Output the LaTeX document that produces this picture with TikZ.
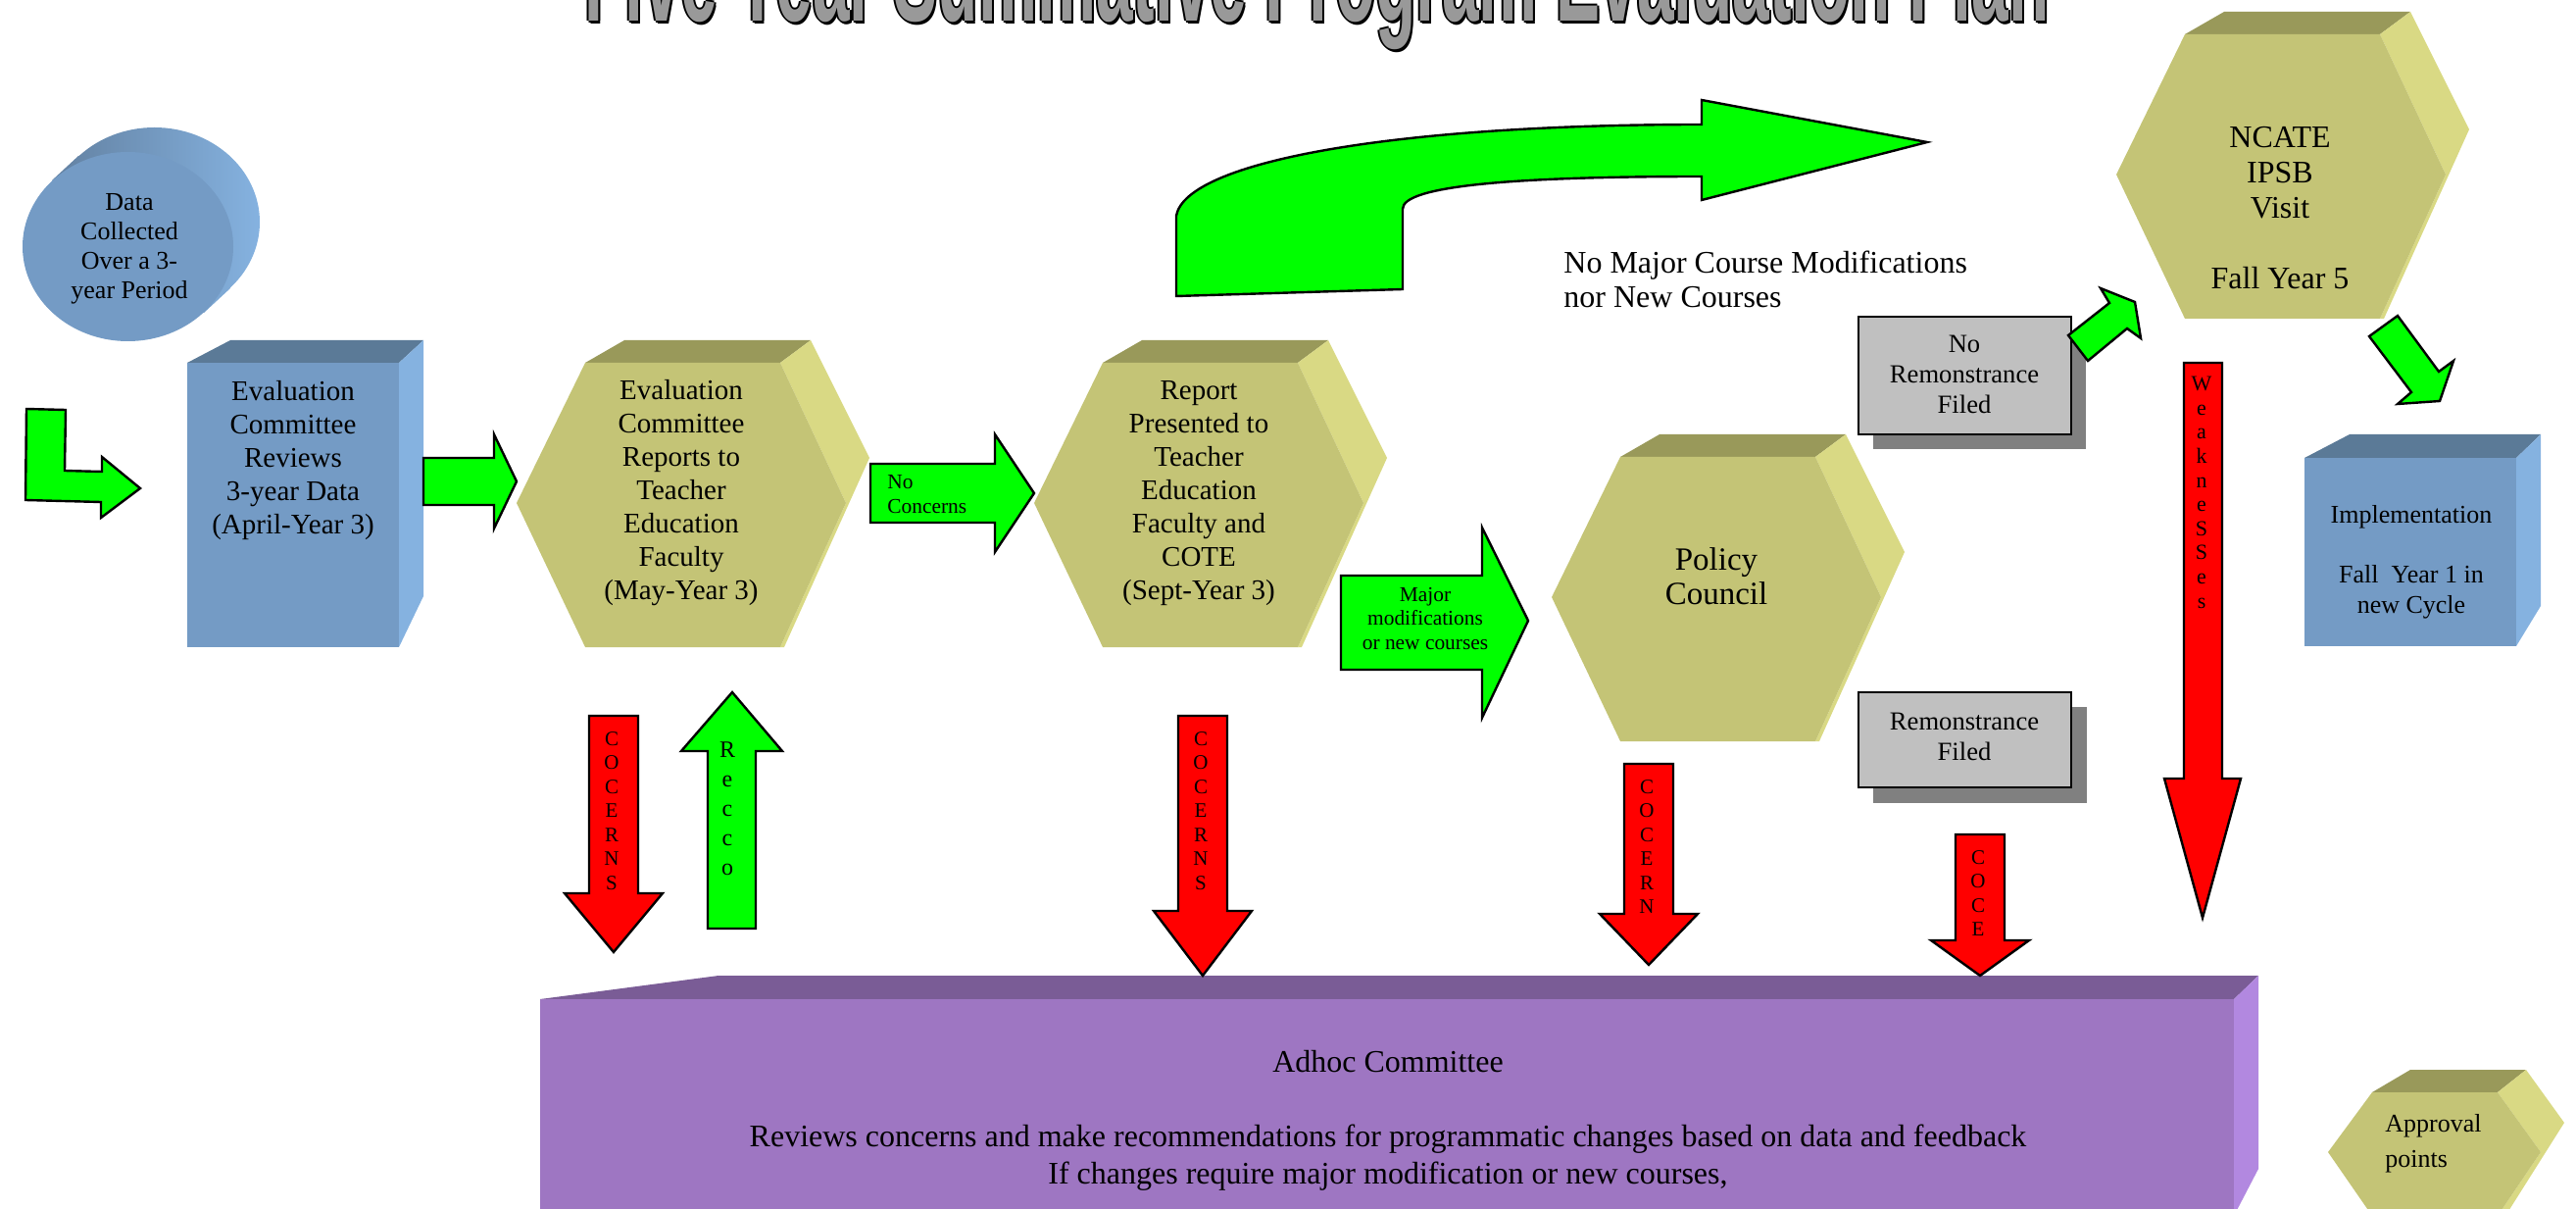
\documentclass[tikz,border=0pt]{standalone}
\usepackage{graphicx}
\usepackage{fontspec}
\setmainfont{Liberation Serif}
\newfontfamily\titlefont{Liberation Sans}
\definecolor{arrowgreen}{RGB}{0,255,0}
\definecolor{hexfront}{RGB}{196,196,118}
\definecolor{hextop}{RGB}{153,153,90}
\definecolor{hexside}{RGB}{217,217,132}
\definecolor{bluefront}{RGB}{116,155,197}
\definecolor{bluetop}{RGB}{91,122,151}
\definecolor{blueside}{RGB}{133,178,224}
\definecolor{cyldark}{RGB}{98,128,160}
\definecolor{purplefront}{RGB}{158,118,194}
\definecolor{purpletop}{RGB}{122,92,150}
\definecolor{purpleside}{RGB}{178,136,224}
\definecolor{boxgray}{RGB}{192,192,192}
\definecolor{shadowgray}{RGB}{128,128,128}
\definecolor{titlegray}{RGB}{153,153,153}

\begin{document}
\begin{tikzpicture}[x=0.5bp, y=-0.5bp,
    every node/.style={inner sep=0pt, align=center},
    greenarrow/.style={fill=arrowgreen, draw=black, line width=1.2bp},
    redarrow/.style={fill=red, draw=black, line width=1.2bp},
    graybox/.style={fill=boxgray, draw=black, line width=1.2bp},
    boxtext/.style={font=\fontsize{14.5bp}{17bp}\selectfont},
    smalltext/.style={font=\fontsize{10.7bp}{12.2bp}\selectfont},
    letter/.style={anchor=base, font=\fontsize{10.5bp}{12bp}\selectfont}]
    \clip (0,0) rectangle (2628,1233);

    % title, cut by the top edge
    \foreach \ox/\oy [count=\k] in {-2/0,2/0,0/-2,0/2,2/3}
        \node[anchor=base west, text=black] (tshadow\k) at (596+\ox,22+\oy)
            {\resizebox{747bp}{50bp}{\titlefont\bfseries Five Year Summative Program Evaluation Plan}};
    \node[anchor=base west, text=titlegray] (title) at (596,22)
        {\resizebox{747bp}{50bp}{\titlefont\bfseries Five Year Summative Program Evaluation Plan}};

    % data cylinder
    \shade[left color=cyldark, right color=blueside]
        (157.5,226.5) ellipse (107.5 and 96.5)
        (53,184) -- (80,159) -- (235,294) -- (208,319) -- cycle;
    \fill[bluefront] (130.5,251.5) ellipse (107.5 and 96.5);
    \node[font=\fontsize{13bp}{15bp}\selectfont] (data) at (132,254)
        {Data\\Collected\\Over a 3-\\year Period};

    % blue boxes
    \fill[bluetop] (191,370) -- (235,347) -- (432,347) -- (407,370) -- cycle;
    \fill[blueside] (407,370) -- (432,347) -- (432,608) -- (407,660) -- cycle;
    \fill[bluefront] (191,370) rectangle (407,660);
    \node[boxtext] (review) at (299,470)
        {Evaluation\\Committee\\Reviews\\3-year Data\\(April-Year 3)};

    \fill[bluetop] (2351,467) -- (2397,443) -- (2592,443) -- (2567,467) -- cycle;
    \fill[blueside] (2567,467) -- (2592,443) -- (2592,618) -- (2567,659) -- cycle;
    \fill[bluefront] (2351,467) rectangle (2567,659);
    \node[font=\fontsize{13bp}{15.3bp}\selectfont] (impl) at (2460,573)
        {Implementation\\~\\Fall\ \ Year 1 in\\new Cycle};

    % hexagons
    \foreach \dx/\dy in {0/0, 528/0, 1056/96, 1632/-335}{
        \begin{scope}[shift={(\dx,\dy)}]
            \fill[hextop] (597,370) -- (637,347) -- (827,347) -- (796,370) -- cycle;
            \fill[hexside] (796,370) -- (827,347) -- (887,467) -- (800,660) -- (796,660) -- (863,513) -- cycle;
            \fill[hexfront] (527,513) -- (597,370) -- (796,370) -- (863,513) -- (796,660) -- (597,660) -- cycle;
        \end{scope}
    };
    \node[boxtext] (hexA) at (695,503)
        {Evaluation\\Committee\\Reports to\\Teacher\\Education\\Faculty\\(May-Year 3)};
    \node[boxtext] (hexB) at (1223,503)
        {Report\\Presented to\\Teacher\\Education\\Faculty and\\COTE\\(Sept-Year 3)};
    \node[font=\fontsize{16.5bp}{17.5bp}\selectfont] (policy) at (1751,588) {Policy\\Council};
    \node[font=\fontsize{16bp}{18bp}\selectfont] (ncate) at (2326,212)
        {NCATE\\IPSB\\Visit\\~\\Fall Year 5};

    % approval hexagon
    \fill[hextop] (2420,1114) -- (2459,1091) -- (2577,1091) -- (2548,1114) -- cycle;
    \fill[hexside] (2548,1114) -- (2577,1091) -- (2616,1145) -- (2556,1240) -- (2548,1240) -- (2592,1175) -- cycle;
    \fill[hexfront] (2375,1175) -- (2420,1114) -- (2548,1114) -- (2592,1175) -- (2548,1240) -- (2420,1240) -- cycle;
    \node[anchor=west, align=left, font=\fontsize{13bp}{18bp}\selectfont] (approval) at (2433,1166)
        {Approval\\points};

    % remonstrance boxes
    \fill[shadowgray] (1911,338) rectangle (2128,458);
    \draw[graybox] (1896,323) rectangle (2113,443);
    \node[font=\fontsize{13.3bp}{15.5bp}\selectfont] (norem) at (2004,382) {No\\Remonstrance\\Filed};
    \fill[shadowgray] (1911,721) rectangle (2129,819);
    \draw[graybox] (1896,706) rectangle (2113,803);
    \node[font=\fontsize{13.3bp}{15.5bp}\selectfont] (rem) at (2004,751) {Remonstrance\\Filed};

    % adhoc committee
    \fill[purpletop] (551,1019) -- (733,995) -- (2304,995) -- (2279,1019) -- cycle;
    \fill[purpleside] (2279,1019) -- (2304,995) -- (2304,1192) -- (2279,1240) -- cycle;
    \fill[purplefront] (551,1019) rectangle (2279,1240);
    \node[font=\fontsize{16bp}{19bp}\selectfont] (adhoc) at (1416,1143)
        {Adhoc Committee\\~\\Reviews concerns and make recommendations for programmatic changes based on data and feedback\\If changes require major modification or new courses,};

    % green arrows
    \filldraw[greenarrow] (27,417) -- (67,418) -- (66,480) -- (104,481) -- (104,466) -- (143,498)
        -- (103,528) -- (103,512) -- (26,510) -- cycle;
    \filldraw[greenarrow] (432,467) -- (504,467) -- (504,443) -- (527,491) -- (504,539) -- (504,515) -- (432,515) -- cycle;
    \filldraw[greenarrow] (888,473) -- (1015,473) -- (1015,443) -- (1055,503) -- (1015,563) -- (1015,533) -- (888,533) -- cycle;
    \node[smalltext, anchor=west, align=left] (nocon) at (905,504) {No\\Concerns};
    \filldraw[greenarrow] (1368,587) -- (1512,587) -- (1512,538) -- (1559,633) -- (1512,732) -- (1512,683) -- (1368,683) -- cycle;
    \node[smalltext] (major) at (1454,631) {Major\\modifications\\or new courses};
    \filldraw[greenarrow] (1200,302) -- (1200,220) .. controls (1210,165) and (1420,127) .. (1736,127)
        -- (1736,102) -- (1966,145) -- (1736,204) -- (1736,180)
        .. controls (1540,180) and (1431,190) .. (1431,213) -- (1431,295) -- cycle;
    \filldraw[greenarrow] (2110,342) -- (2152,309) -- (2143,294) -- (2178,308) -- (2184,345) -- (2170,335) -- (2130,368) -- cycle;
    \filldraw[greenarrow] (2417,343) -- (2446,322) -- (2488,379) -- (2503,368) -- (2489,409) -- (2446,412) -- (2460,400) -- cycle;
    \filldraw[greenarrow] (722,947) -- (722,766) -- (695,766) -- (747,706) -- (798,766) -- (771,766) -- (771,947) -- cycle;
    \foreach \ch [count=\i] in {R,e,c,c,o}
        \node[letter, font=\fontsize{12bp}{14bp}\selectfont] (recco\i) at (742,742+30*\i) {\ch};

    \node[anchor=west, align=left, font=\fontsize{16bp}{17.5bp}\selectfont] (nomajor) at (1595,285)
        {No Major Course Modifications\\nor New Courses};

    % red arrows
    \foreach \cx/\top/\neck/\tip/\nm in {626/730/911/971/cA, 1227/730/929/995/cB, 1682/779/932/984/cC, 2020/851/959/995/cD}{
        \filldraw[redarrow] (\cx-25,\top) -- (\cx+25,\top) -- (\cx+25,\neck) -- (\cx+50,\neck)
            -- (\cx,\tip) -- (\cx-50,\neck) -- (\cx-25,\neck) -- cycle;
        \begin{scope}
            \clip (\cx-24,\top) rectangle (\cx+24,\neck);
            \foreach \ch [count=\i] in {C,O,C,E,R,N,S}
                \node[letter] (\nm\i) at (\cx-2,\top+30+24.5*\i-24.5) {\ch};
        \end{scope}
    };
    \filldraw[redarrow] (2228,370) -- (2267,370) -- (2267,794) -- (2286,794) -- (2247,936) -- (2208,794) -- (2228,794) -- cycle;
    \foreach \ch [count=\i] in {W,e,a,k,n,e,S,S,e,s}
        \node[letter, font=\fontsize{11bp}{12bp}\selectfont] (weak\i) at (2246,374+24.6*\i) {\ch};
\end{tikzpicture}
\end{document}
